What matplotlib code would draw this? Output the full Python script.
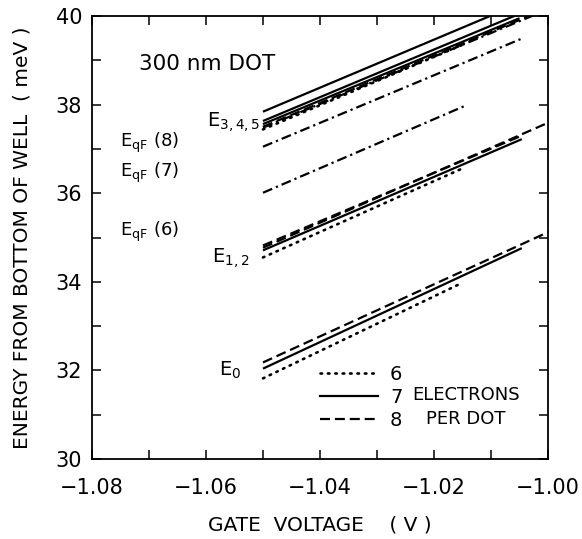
#!/usr/bin/env python3
"""Energy levels of a 300 nm dot vs gate voltage (6, 7, 8 electrons per dot)."""

import matplotlib
matplotlib.use("Agg")
import matplotlib.pyplot as plt
from matplotlib.lines import Line2D
from matplotlib.ticker import MultipleLocator

plt.rcParams["font.family"] = ["DejaVu Sans"]

# every level line starts at the same gate voltage
X_START = -1.05

# E0 levels: 6, 7, 8 electrons
E0_STYLE = ["dotted", "solid", "dashed"]
E0_Y_START = [31.82, 32.04, 32.18]
E0_X_END = [-1.015, -1.0046, -1.00]
E0_Y_END = [33.98, 34.76, 35.12]

# E1,2 levels
E12_STYLE = ["dotted", "solid", "dashed", "dashed"]
E12_Y_START = [34.55, 34.71, 34.77, 34.82]
E12_X_END = [-1.015, -1.0046, -1.00, -1.0046]
E12_Y_END = [36.56, 37.22, 37.59, 37.30]

# E3,4,5 levels
E345_STYLE = ["solid", "solid", "solid", "dashed", "dotted"]
E345_Y_START = [37.84, 37.63, 37.56, 37.50, 37.44]
E345_X_END = [-1.005, -1.005, -1.005, -1.00, -1.015]
E345_Y_END = [40.28, 40.05, 39.95, 40.18, 39.35]

# quasi-Fermi energies (dash-dot): 8, 7, 6 electrons
EQF_Y_START = [37.48, 37.05, 36.01]
EQF_X_END = [-1.00, -1.0046, -1.0146]
EQF_Y_END = [40.15, 39.49, 37.97]

LEGEND_LABELS = ["6", "7", "8"]
LEGEND_STYLES = ["dotted", "solid", "dashed"]

X_TICKS = [-1.08, -1.06, -1.04, -1.02, -1.00]
Y_TICKS = [30, 32, 34, 36, 38, 40]

DASHES = {
    "dotted": (0, (0.6, 2.2)),
    "solid": "-",
    "dashed": (0, (4.5, 2.2)),
    "dashdot": (0, (4.5, 1.8, 1.0, 1.8)),
}
LW = 1.6


def draw_group(ax, styles, y0, x1, y1):
    for st, ys, xe, ye in zip(styles, y0, x1, y1):
        cap = "round" if st == "dotted" else "butt"
        ax.plot([X_START, xe], [ys, ye], color="black", lw=LW if st != "dotted" else 1.9,
                linestyle=DASHES[st], dash_capstyle=cap, solid_capstyle="butt", clip_on=True)


def main() -> None:
    fig = plt.figure(figsize=(5.82, 5.39), dpi=100)
    ax = fig.add_axes([0.158, 0.1484, 0.7836, 0.8219])

    draw_group(ax, E0_STYLE, E0_Y_START, E0_X_END, E0_Y_END)
    draw_group(ax, E12_STYLE, E12_Y_START, E12_X_END, E12_Y_END)
    draw_group(ax, E345_STYLE, E345_Y_START, E345_X_END, E345_Y_END)
    draw_group(ax, ["dashdot"] * len(EQF_Y_START), EQF_Y_START, EQF_X_END, EQF_Y_END)

    ax.set_xlim(-1.08, -1.00)
    ax.set_ylim(30, 40)
    ax.set_xticks(X_TICKS)
    ax.set_xticklabels([f"\u2212{abs(v):.2f}" for v in X_TICKS])
    ax.set_yticks(Y_TICKS)
    ax.xaxis.set_minor_locator(MultipleLocator(0.01))
    ax.yaxis.set_minor_locator(MultipleLocator(1))
    for which in ("major", "minor"):
        ax.tick_params(axis="both", which=which, direction="in", length=6.5, width=1.1,
                       top=True, right=True)
    ax.tick_params(axis="x", which="major", labelsize=15, pad=14)
    ax.tick_params(axis="y", which="major", labelsize=15, pad=7)
    for sp in ax.spines.values():
        sp.set_linewidth(1.3)

    ax.set_xlabel("GATE  VOLTAGE    ( V )", fontsize=14.5, labelpad=12)
    ax.set_ylabel("ENERGY FROM BOTTOM OF WELL  ( meV )", fontsize=14.5, labelpad=17)

    ax.text(-1.0717, 38.92, "300 nm DOT", fontsize=15.5, ha="left", va="center")
    ax.text(-1.0599, 37.61, r"E$_{3,4,5}$", fontsize=14, ha="left", va="center")
    ax.text(-1.0589, 34.54, r"E$_{1,2}$", fontsize=14, ha="left", va="center")
    ax.text(-1.0577, 32.0, r"E$_0$", fontsize=14, ha="left", va="center")
    ax.text(-1.0751, 37.13, r"E$_{\rm qF}$ (8)", fontsize=13, ha="left", va="center")
    ax.text(-1.0751, 36.45, r"E$_{\rm qF}$ (7)", fontsize=13, ha="left", va="center")
    ax.text(-1.0751, 35.13, r"E$_{\rm qF}$ (6)", fontsize=13, ha="left", va="center")

    handles = [Line2D([], [], color="black", lw=LW if s != "dotted" else 1.9,
                      linestyle=DASHES[s], dash_capstyle="round" if s == "dotted" else "butt")
               for s in LEGEND_STYLES]
    ax.legend(handles, LEGEND_LABELS, loc="upper left", bbox_to_anchor=(0.50, 0.213),
              frameon=False, fontsize=14, handlelength=3.0, handletextpad=0.6,
              labelspacing=0.22, borderpad=0.0, borderaxespad=0.0)
    ax.text(-1.0144, 31.18, "ELECTRONS\nPER DOT", fontsize=13, ha="center", va="center",
            linespacing=1.4)

    fig.savefig("out.png", dpi=100)
    plt.close(fig)


if __name__ == "__main__":
    main()
